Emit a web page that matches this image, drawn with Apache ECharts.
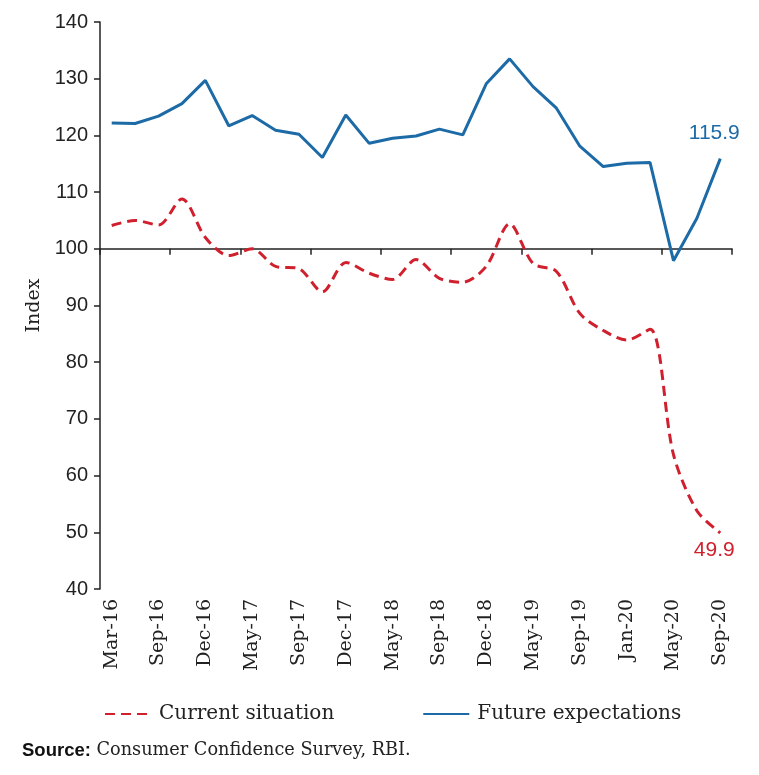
<!DOCTYPE html>
<html>
<head>
<meta charset="utf-8">
<script src="https://cdn.jsdelivr.net/npm/echarts@6/dist/echarts.min.js"></script>
<style>
  html, body { margin: 0; padding: 0; background: #fff; }
  #chart { width: 759px; height: 775px; }
</style>
</head>
<body>
<div id="chart"></div>
<script>
// survey rounds (only every other one is labelled on the axis)
var categories = ['Mar-16', 'Jun-16', 'Sep-16', 'Nov-16', 'Dec-16', 'Mar-17', 'May-17', 'Jun-17', 'Sep-17',
  'Nov-17', 'Dec-17', 'Mar-18', 'May-18', 'Jun-18', 'Sep-18', 'Nov-18', 'Dec-18', 'Mar-19', 'May-19',
  'Jul-19', 'Sep-19', 'Nov-19', 'Jan-20', 'Mar-20', 'May-20', 'Jul-20', 'Sep-20'];

var currentSituation = [104.1, 105.0, 104.2, 108.8, 102.0, 98.8, 100.0, 96.9, 96.5,
  92.4, 97.6, 95.7, 94.6, 98.1, 94.8, 94.1, 96.9, 104.4, 97.4,
  96.0, 88.6, 85.6, 83.9, 85.8, 63.7, 53.8, 49.9];

var futureExpectations = [122.2, 122.1, 123.4, 125.6, 129.7, 121.7, 123.5, 120.9, 120.2,
  116.1, 123.6, 118.6, 119.5, 119.9, 121.1, 120.1, 129.1, 133.5, 128.6,
  124.8, 118.1, 114.5, 115.1, 115.2, 97.9, 105.4, 115.9];

var yTicks = [40, 50, 60, 70, 80, 90, 100, 110, 120, 130, 140];

var RED = '#d0202e';
var BLUE = '#1c6aa6';
var serif = '"DejaVu Serif", "Liberation Serif", serif';
var sans = '"Liberation Sans", "DejaVu Sans", sans-serif';

var H = 775, gridTop = 22, gridBottom = 186;
var yMin = yTicks[0], yMax = yTicks[yTicks.length - 1];
// the axis line with ticks sits on the 100 level
var baseOffset = -(H - gridTop - gridBottom) * (100 - yMin) / (yMax - yMin);

var chart = echarts.init(document.getElementById('chart'));
var option = {
  backgroundColor: '#fff',
  animation: false,
  grid: { left: 100, right: 27, top: gridTop, bottom: gridBottom },
  legend: {
    left: 99,
    top: 699,
    itemWidth: 46,
    itemHeight: 14,
    itemGap: 88,
    itemStyle: { opacity: 0 },
    textStyle: { fontFamily: serif, fontSize: 20, color: '#222', padding: [0, 0, 0, 3] },
    data: ['Current situation', 'Future expectations']
  },
  xAxis: [
    {
      type: 'category',
      data: categories,
      boundaryGap: true,
      axisLine: { show: false },
      axisTick: { show: false },
      axisLabel: {
        interval: 1,
        rotate: 90,
        margin: 10,
        fontFamily: serif,
        fontSize: 19,
        color: '#222'
      }
    },
    {
      type: 'category',
      data: categories,
      boundaryGap: true,
      position: 'bottom',
      offset: baseOffset,
      axisLine: { show: true, lineStyle: { color: '#222', width: 1.5 } },
      axisTick: { show: true, inside: false, length: 6, lineStyle: { color: '#222', width: 1.5 } },
      axisLabel: { show: false }
    }
  ],
  yAxis: {
    type: 'value',
    min: yMin,
    max: yMax,
    interval: 10,
    name: 'Index',
    nameLocation: 'middle',
    nameGap: 54,
    nameRotate: 90,
    nameTextStyle: { fontFamily: serif, fontSize: 19, color: '#222' },
    axisLine: { show: true, lineStyle: { color: '#222', width: 1.5 } },
    axisTick: { show: true, length: 6, lineStyle: { color: '#222', width: 1.5 } },
    axisLabel: { fontFamily: sans, fontSize: 20, color: '#222', margin: 12 },
    splitLine: { show: false }
  },
  series: [
    {
      name: 'Current situation',
      type: 'line',
      xAxisIndex: 0,
      data: currentSituation,
      smooth: 0.3,
      symbol: 'none',
      lineStyle: { color: RED, width: 3, type: [10, 6] },
      itemStyle: { color: RED },
      endLabel: {
        show: true,
        formatter: function (p) { return p.value.toFixed(1); },
        align: 'center',
        verticalAlign: 'top',
        distance: 0,
        offset: [-6, 7],
        fontFamily: sans,
        fontSize: 21,
        color: RED
      }
    },
    {
      name: 'Future expectations',
      type: 'line',
      xAxisIndex: 0,
      data: futureExpectations,
      symbol: 'none',
      lineStyle: { color: BLUE, width: 3 },
      itemStyle: { color: BLUE },
      endLabel: {
        show: true,
        formatter: function (p) { return p.value.toFixed(1); },
        align: 'center',
        verticalAlign: 'bottom',
        distance: 0,
        offset: [-6, -15],
        fontFamily: sans,
        fontSize: 21,
        color: BLUE
      }
    }
  ],
  graphic: [
    {
      type: 'text',
      left: 22,
      top: 741,
      style: {
        text: '{b|Source:} Consumer Confidence Survey, RBI.',
        rich: {
          b: { fontFamily: sans, fontWeight: 'bold', fontSize: 18.5, fill: '#111' }
        },
        fontFamily: serif,
        fontSize: 17.7,
        fill: '#222'
      }
    }
  ]
};
chart.setOption(option);
</script>
</body>
</html>
